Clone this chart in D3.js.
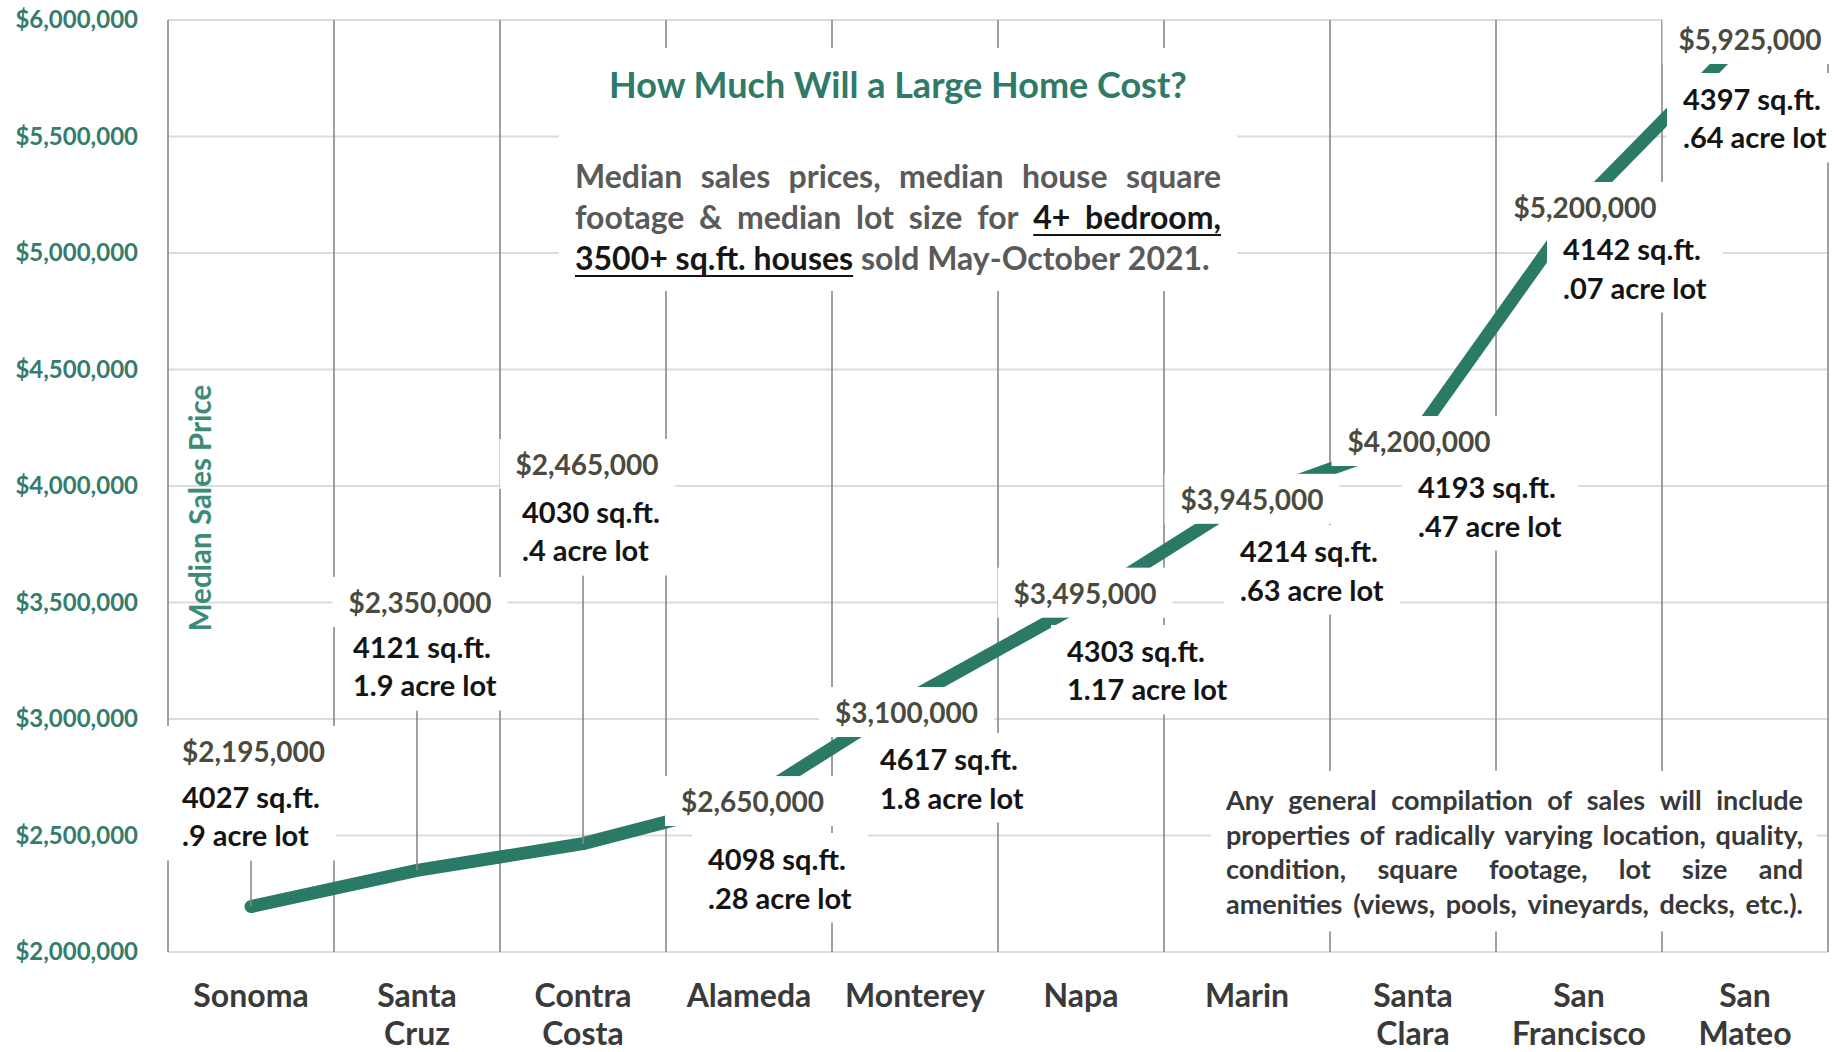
<!DOCTYPE html>
<html>
<head>
<meta charset="utf-8">
<script src="https://cdn.jsdelivr.net/npm/d3@7"></script>
<style>
  html, body { margin: 0; padding: 0; background: #ffffff; }
  svg { display: block; font-family: Lato, "Open Sans", sans-serif; font-weight: 700; }
</style>
</head>
<body>
<svg id="chart" width="1845" height="1052"></svg>
<script>
// ---- data ----
const counties = ["Sonoma", "Santa Cruz", "Contra Costa", "Alameda", "Monterey",
                  "Napa", "Marin", "Santa Clara", "San Francisco", "San Mateo"];
const medianPrices = [2195000, 2350000, 2465000, 2650000, 3100000,
                      3495000, 3945000, 4200000, 5200000, 5925000];
const medianSqft = [4027, 4121, 4030, 4098, 4617, 4303, 4214, 4193, 4142, 4397];
const lotAcres = [0.9, 1.9, 0.4, 0.28, 1.8, 1.17, 0.63, 0.47, 0.07, 0.64];
const priceTicks = [2000000, 2500000, 3000000, 3500000, 4000000,
                    4500000, 5000000, 5500000, 6000000];

const titleText = "How Much Will a Large Home Cost?";
const subtitleLines = [
  [{ t: "Median sales prices, median house square" }],
  [{ t: "footage & median lot size for" }, { t: "4+ bedroom,", u: true }],
  [{ t: "3500+ sq.ft. houses", u: true }, { t: "sold May-October 2021." }]
];
const noteLines = [
  "Any general compilation of sales will include",
  "properties of radically varying location, quality,",
  "condition, square footage, lot size and",
  "amenities (views, pools, vineyards, decks, etc.)."
];
const yAxisTitle = "Median Sales Price";

// ---- label placement: pixel offsets from each point ----
// price label: [centre x offset, baseline offset]
const priceLabelOffset = [[2.5, -144.6], [3, -257.5], [4, -368.7], [3.5, 11.5], [-8.5, 27.3],
                          [4, 0], [5, 11], [6, 12.6], [6, 11.6], [5, 12.5]];
// detail label: [left x offset, first baseline offset]
const detailLabelOffset = [[-69, -98.6], [-64, -212.5], [-61, -320.7], [-41, 69.5], [-35, 74.3],
                           [-14, 58.3], [-7, 63.2], [5, 58.6], [-16, 53.6], [-62, 72.5]];
const withLeader = [true, true, true, false, false, false, false, false, false, false];

// ---- layout ----
const plot = { left: 168, right: 1828, top: 20, bottom: 952 };
const teal = "#2a7a66";
const svg = d3.select("#chart");

const x = d3.scaleBand().domain(counties).range([plot.left, plot.right]).padding(0);
const y = d3.scaleLinear().domain([2000000, 6000000]).range([plot.bottom, plot.top]);
const cx = c => x(c) + x.bandwidth() / 2;

// horizontal gridlines
svg.append("g").selectAll("line").data(priceTicks).join("line")
  .attr("x1", plot.left).attr("x2", plot.right)
  .attr("y1", d => y(d)).attr("y2", d => y(d))
  .attr("stroke", "#dcdcdc").attr("stroke-width", 2);

// vertical category dividers
const dividers = counties.map(c => x(c)).concat([plot.right]);
svg.append("g").selectAll("line").data(dividers).join("line")
  .attr("x1", d => d).attr("x2", d => d)
  .attr("y1", plot.top).attr("y2", plot.bottom)
  .attr("stroke", "#8a8a7e").attr("stroke-width", 1.6);

// y axis
const yAxis = svg.append("g").attr("transform", `translate(${plot.left},0)`)
  .call(d3.axisLeft(y).tickValues(priceTicks).tickFormat(d3.format("$,")).tickSize(0).tickPadding(30));
yAxis.select(".domain").remove();
yAxis.selectAll("text")
  .attr("font-family", "Lato, sans-serif").attr("font-weight", 700)
  .attr("font-size", 24).attr("fill", "#347c6b");

// x axis with wrapped county names
const xAxis = svg.append("g").attr("transform", `translate(0,${plot.bottom})`)
  .call(d3.axisBottom(x).tickSize(0));
xAxis.select(".domain").remove();
xAxis.selectAll("text")
  .attr("font-family", "Lato, sans-serif").attr("font-weight", 700)
  .attr("font-size", 32).attr("fill", "#3a3a3a")
  .attr("y", 0).attr("dy", null)
  .each(function (d) {
    const t = d3.select(this);
    const parts = d.split(" ");
    t.text(null);
    parts.forEach((p, i) => t.append("tspan").attr("x", 0).attr("y", 55 + i * 38).text(p));
  });

// y axis title
svg.append("text")
  .attr("transform", `translate(211,508) rotate(-90)`)
  .attr("text-anchor", "middle")
  .attr("font-size", 29.5).attr("fill", "#3d8b76")
  .text(yAxisTitle);

// price line
const pts = counties.map((c, i) => [cx(c), y(medianPrices[i])]);
svg.append("path")
  .attr("d", d3.line()(pts))
  .attr("fill", "none").attr("stroke", teal)
  .attr("stroke-width", 13).attr("stroke-linecap", "round").attr("stroke-linejoin", "round");

// leader lines + data labels
const leaderG = svg.append("g");
const boxG = svg.append("g");
const textG = svg.append("g");
const fmtPrice = d3.format("$,");
const fmtLot = v => String(v).replace(/^0\./, ".");

counties.forEach((c, i) => {
  const [px, py] = pts[i];
  const [pdx, pdy] = priceLabelOffset[i];
  const [ddx, ddy] = detailLabelOffset[i];

  const price = textG.append("text")
    .attr("x", px + pdx).attr("y", py + pdy)
    .attr("text-anchor", "middle").attr("font-size", 28).attr("fill", "#4a4a3e")
    .text(fmtPrice(medianPrices[i]));

  const detail = textG.append("text").attr("font-size", 29).attr("fill", "#141414");
  detail.append("tspan").attr("x", px + ddx).attr("y", py + ddy).text(`${medianSqft[i]} sq.ft.`);
  detail.append("tspan").attr("x", px + ddx).attr("y", py + ddy + 38.5).text(`${fmtLot(lotAcres[i])} acre lot`);

  [price, detail].forEach(node => {
    const b = node.node().getBBox();
    boxG.append("rect")
      .attr("x", b.x - 16).attr("y", b.y - 8)
      .attr("width", b.width + 32).attr("height", b.height + 16)
      .attr("fill", "#ffffff");
  });

  if (withLeader[i]) {
    const b = detail.node().getBBox();
    leaderG.append("line")
      .attr("x1", px).attr("x2", px)
      .attr("y1", py).attr("y2", b.y + b.height + 8)
      .attr("stroke", "#8a8a7e").attr("stroke-width", 1.6);
  }
});

// word-by-word line layout (justified or natural spacing) with underline runs
function layoutWords(g, words, x0, y0, width, justify, style) {
  const probeA = g.append("text").attr("font-size", style.size).text("x x");
  const probeB = g.append("text").attr("font-size", style.size).text("xx");
  const space = probeA.node().getComputedTextLength() - probeB.node().getComputedTextLength();
  probeA.remove(); probeB.remove();

  const nodes = words.map(w => g.append("text")
    .attr("y", y0).attr("font-size", style.size)
    .attr("fill", w.u ? style.uColor : style.color).text(w.t));
  const widths = nodes.map(n => n.node().getComputedTextLength());
  const total = d3.sum(widths);
  const gap = justify && words.length > 1 ? (width - total) / (words.length - 1) : space;
  let xx = x0;
  const pos = [];
  nodes.forEach((n, i) => { n.attr("x", xx); pos.push([xx, xx + widths[i]]); xx += widths[i] + gap; });

  let i = 0;
  while (i < words.length) {
    if (words[i].u) {
      let j = i;
      while (j + 1 < words.length && words[j + 1].u) j++;
      g.append("line")
        .attr("x1", pos[i][0]).attr("x2", pos[j][1])
        .attr("y1", y0 + 6).attr("y2", y0 + 6)
        .attr("stroke", style.uColor).attr("stroke-width", 2.2);
      i = j + 1;
    } else i++;
  }
}

const toWords = segs => segs.flatMap(s => s.t.split(" ").map(w => ({ t: w, u: !!s.u })));

// title block
const titleBox = svg.append("g");
const titleG = svg.append("g");
titleG.append("text")
  .attr("x", 898).attr("y", 98).attr("text-anchor", "middle")
  .attr("font-size", 36).attr("fill", "#2f7a68")
  .text(titleText);
subtitleLines.forEach((segs, i) => {
  layoutWords(titleG, toWords(segs), 575, 188 + i * 41, 646, i < subtitleLines.length - 1,
    { size: 32, color: "#5a5a5a", uColor: "#161616" });
});
{
  const b = titleG.node().getBBox();
  titleBox.append("rect").attr("x", b.x - 16).attr("y", b.y - 14)
    .attr("width", b.width + 32).attr("height", b.height + 28).attr("fill", "#ffffff");
}

// note block
const noteBox = svg.append("g");
const noteG = svg.append("g");
noteLines.forEach((line, i) => {
  layoutWords(noteG, toWords([{ t: line }]), 1226, 810 + i * 34.5, 577, true,
    { size: 27, color: "#383838", uColor: "#383838" });
});
{
  const b = noteG.node().getBBox();
  noteBox.append("rect").attr("x", b.x - 14).attr("y", b.y - 12)
    .attr("width", b.width + 28).attr("height", b.height + 24).attr("fill", "#ffffff");
}
</script>
</body>
</html>
